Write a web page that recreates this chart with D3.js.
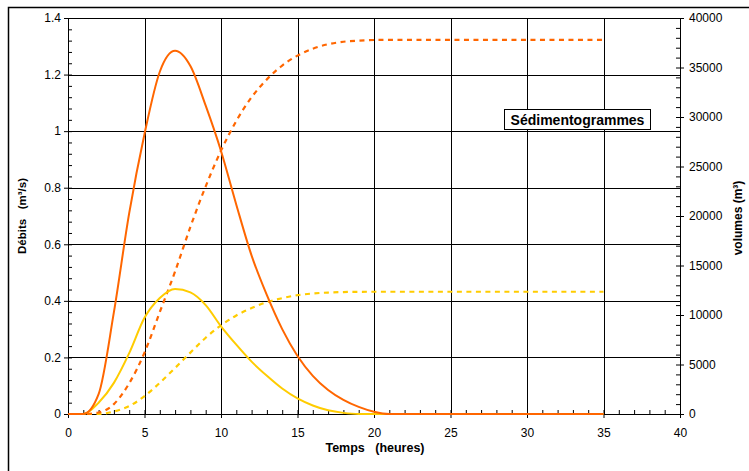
<!DOCTYPE html>
<html>
<head>
<meta charset="utf-8">
<script src="https://cdn.jsdelivr.net/npm/d3@7"></script>
<style>
  body { margin: 0; background: #fff; }
  svg { display: block; font-family: "Liberation Sans", Arial, sans-serif; }
</style>
</head>
<body>
<svg id="chart" width="749" height="471"></svg>
<script>
// hours
const hours = [0, 1, 2, 3, 4, 5, 6, 7, 8, 9, 10, 11, 12, 13, 14, 15, 16, 17, 18, 19, 20, 21, 22, 35];

// discharge (m3/s)
const debitOrange = [0, 0, 0.07, 0.36, 0.71, 0.99, 1.21, 1.284, 1.23, 1.09, 0.93, 0.74, 0.56, 0.42, 0.30, 0.205, 0.135, 0.085, 0.05, 0.025, 0.008, 0, 0, 0];
const debitJaune  = [0, 0, 0.04, 0.11, 0.215, 0.34, 0.41, 0.442, 0.43, 0.385, 0.31, 0.245, 0.185, 0.135, 0.09, 0.055, 0.03, 0.013, 0.004, 0, 0, 0, 0, 0];

// cumulated volumes (m3)
const volumeOrange = [0, 0, 150, 1000, 3100, 6200, 10300, 14400, 18900, 23000, 26600, 29600, 32000, 33800, 35200, 36200, 36900, 37350, 37600, 37720, 37780, 37800, 37800, 37800];
const volumeJaune  = [0, 0, 0, 250, 800, 1800, 3150, 4650, 6200, 7700, 8950, 9950, 10700, 11300, 11700, 12000, 12170, 12270, 12320, 12340, 12350, 12350, 12350, 12350];

const xTicks = [0, 5, 10, 15, 20, 25, 30, 35, 40];
const yTicks = [0, 0.2, 0.4, 0.6, 0.8, 1, 1.2, 1.4];
const y2Ticks = [0, 5000, 10000, 15000, 20000, 25000, 30000, 35000, 40000];

const orange = '#FF6600';
const jaune = '#FFCC00';

const svg = d3.select('#chart');
const plotLeft = 68, plotRight = 680, plotTop = 18, plotBottom = 414;

const x = d3.scaleLinear().domain([0, 40]).range([plotLeft, plotRight]);
const y = d3.scaleLinear().domain([0, 1.4]).range([plotBottom, plotTop]);
const y2 = d3.scaleLinear().domain([0, 40000]).range([plotBottom, plotTop]);

// outer frame (only top and left edges show in the picture)
svg.append('path')
  .attr('d', 'M8.5,471 V7.5 H749')
  .attr('fill', 'none').attr('stroke', '#000').attr('stroke-width', 1.5);

// gridlines
svg.append('g').selectAll('line')
  .data(yTicks.slice(1))
  .enter().append('line')
  .attr('x1', plotLeft).attr('x2', plotRight)
  .attr('y1', d => Math.round(y(d)) + 0.5).attr('y2', d => Math.round(y(d)) + 0.5)
  .attr('stroke', '#000').attr('stroke-width', 1);

svg.append('g').selectAll('line')
  .data(xTicks.slice(1))
  .enter().append('line')
  .attr('x1', d => Math.round(x(d)) + 0.5).attr('x2', d => Math.round(x(d)) + 0.5)
  .attr('y1', plotTop).attr('y2', plotBottom)
  .attr('stroke', '#000').attr('stroke-width', 1);

// axes
const axisLeft = svg.append('g').attr('transform', `translate(${plotLeft},0)`)
  .call(d3.axisLeft(y).tickValues(yTicks).tickFormat(d3.format('~g')).tickSize(4).tickSizeOuter(0));
svg.append('g').attr('transform', `translate(${plotLeft},0)`)
  .call(d3.axisRight(y).tickValues(d3.range(0, 36).map(i => i * 0.04)).tickFormat('').tickSize(4).tickSizeOuter(0))
  .call(g => g.select('.domain').remove());

const axisRight = svg.append('g').attr('transform', `translate(${plotRight},0)`)
  .call(d3.axisRight(y2).tickValues(y2Ticks).tickFormat(d3.format('d')).tickSize(4).tickSizeOuter(0));
svg.append('g').attr('transform', `translate(${plotRight},0)`)
  .call(d3.axisLeft(y2).tickValues(d3.range(0, 40001, 1000)).tickFormat('').tickSize(4).tickSizeOuter(0))
  .call(g => g.select('.domain').remove());

const axisBottom = svg.append('g').attr('transform', `translate(0,${plotBottom})`)
  .call(d3.axisBottom(x).tickValues(xTicks).tickSize(4).tickSizeOuter(0).tickPadding(10));
svg.append('g').attr('transform', `translate(0,${plotBottom})`)
  .call(d3.axisTop(x).tickValues(d3.range(0, 41, 1)).tickFormat('').tickSize(4).tickSizeOuter(0))
  .call(g => g.select('.domain').remove());

// plot top border
svg.append('line')
  .attr('x1', plotLeft).attr('x2', plotRight).attr('y1', plotTop + 0.5).attr('y2', plotTop + 0.5)
  .attr('stroke', '#000');

[axisLeft, axisRight, axisBottom].forEach(g => {
  g.selectAll('text').attr('font-size', 12).attr('fill', '#000')
    .attr('font-family', '"Liberation Sans", Arial, sans-serif');
  g.selectAll('line, path').attr('stroke', '#000');
});
axisLeft.selectAll('text').attr('x', -7);
axisRight.selectAll('text').attr('x', 9);

// curves
const lineQ = d3.line().x((d, i) => x(hours[i])).y(d => y(d)).curve(d3.curveMonotoneX);
const lineV = d3.line().x((d, i) => x(hours[i])).y(d => y2(d)).curve(d3.curveMonotoneX);

svg.append('path').datum(volumeJaune).attr('d', lineV)
  .attr('fill', 'none').attr('stroke', jaune).attr('stroke-width', 2.2).attr('stroke-dasharray', '5,4.5');
svg.append('path').datum(volumeOrange).attr('d', lineV)
  .attr('fill', 'none').attr('stroke', orange).attr('stroke-width', 2.2).attr('stroke-dasharray', '5,4.5');
svg.append('path').datum(debitJaune).attr('d', lineQ)
  .attr('fill', 'none').attr('stroke', jaune).attr('stroke-width', 2);
svg.append('path').datum(debitOrange).attr('d', lineQ)
  .attr('fill', 'none').attr('stroke', orange).attr('stroke-width', 2);

// axis titles
svg.append('text')
  .attr('transform', 'translate(26,216) rotate(-90)')
  .attr('text-anchor', 'middle').attr('font-size', 11.5).attr('font-weight', 'bold')
  .attr('xml:space', 'preserve')
  .text('Débits   (m³/s)');

svg.append('text')
  .attr('transform', 'translate(742,218) rotate(-90)')
  .attr('text-anchor', 'middle').attr('font-size', 12).attr('font-weight', 'bold')
  .text('volumes (m³)');

svg.append('text')
  .attr('x', 375).attr('y', 452)
  .attr('text-anchor', 'middle').attr('font-size', 12.5).attr('font-weight', 'bold')
  .attr('xml:space', 'preserve')
  .text('Temps   (heures)');

// annotation box
svg.append('rect')
  .attr('x', 504.5).attr('y', 109.5).attr('width', 146).attr('height', 20)
  .attr('fill', '#fff').attr('stroke', '#000');
svg.append('text')
  .attr('x', 577.5).attr('y', 125)
  .attr('text-anchor', 'middle').attr('font-size', 14).attr('font-weight', 'bold')
  .text('Sédimentogrammes');
</script>
</body>
</html>
